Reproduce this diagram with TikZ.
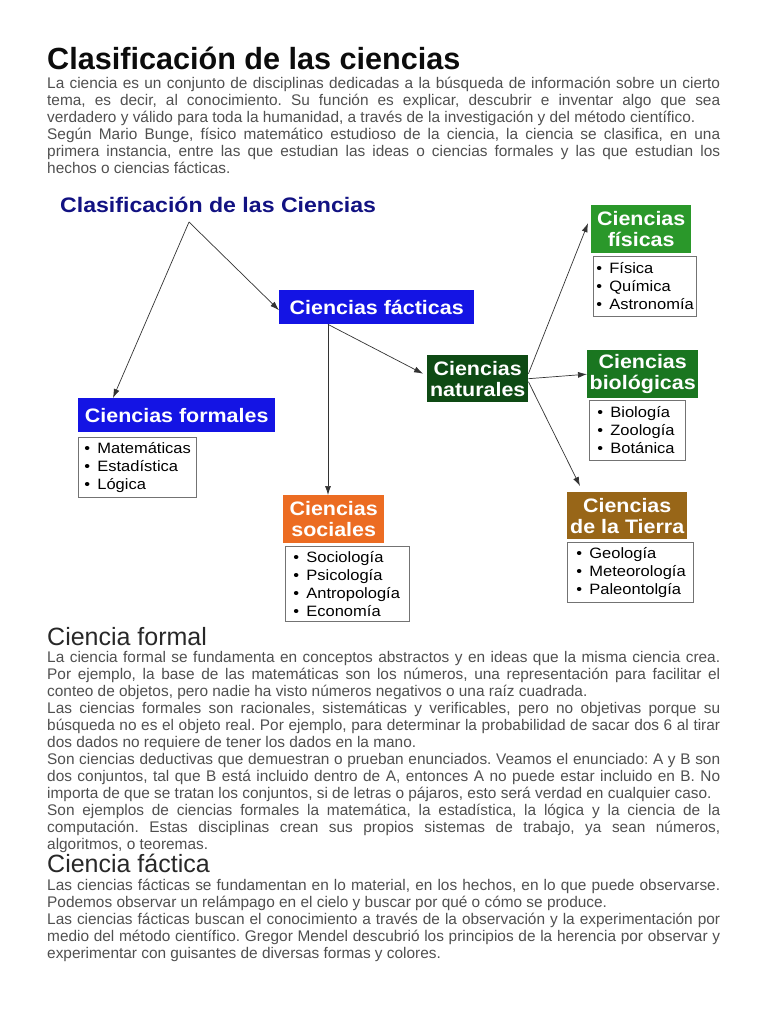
\documentclass[tikz,border=0pt]{standalone}
\usepackage{fontspec}
\setmainfont{Liberation Sans}
\newfontfamily\dfont[FakeStretch=1.1]{Liberation Sans}
\usetikzlibrary{arrows.meta}
\definecolor{bodygray}{RGB}{80,80,80}
\definecolor{headgray}{RGB}{40,40,40}
\definecolor{titleblack}{RGB}{12,12,12}
\definecolor{navy}{RGB}{18,18,130}
\definecolor{cblue}{RGB}{20,20,228}
\definecolor{cdkgreen}{RGB}{14,74,20}
\definecolor{cgreen}{RGB}{42,152,42}
\definecolor{cmgreen}{RGB}{26,118,32}
\definecolor{corange}{RGB}{236,108,34}
\definecolor{cbrown}{RGB}{152,102,24}
\newcommand{\natsp}{\spaceskip=0pt\xspaceskip=0pt\frenchspacing}
\newcommand{\jl}[1]{\makebox[673pt][s]{\natsp #1}}
\newcommand{\bitem}[1]{\mbox{\makebox[13pt][l]{\textbullet}#1}}
\begin{document}
\begin{tikzpicture}[x=1pt,y=-1pt,
  para/.style={anchor=north west, inner sep=0pt, text width=673pt, align=left,
    text=bodygray, font=\fontsize{15.4}{17}\selectfont},
  head/.style={anchor=base west, inner sep=0pt, text=headgray, font=\fontsize{25}{28}\selectfont},
  cbox/.style={anchor=north west, inner sep=0pt, text=white, align=center,
    font=\dfont\bfseries\fontsize{19.5}{21}\selectfont},
  lst/.style={anchor=north west, draw=black!55, fill=white, line width=0.8pt,
    inner ysep=0pt, align=left, text=black, font=\dfont\fontsize{15}{18}\selectfont},
  arr/.style={draw=black!80, line width=0.7pt, -{Latex[length=9pt,width=6pt]}}]
\fill[white] (0,0) rectangle (768,1024);
\useasboundingbox (0,0) rectangle (768,1024);

% ---------- header text ----------
\node[anchor=base west, inner sep=0pt, text=titleblack,
  font=\fontsize{30.6}{33}\selectfont\bfseries] (title) at (47,70) {Clasificación de las ciencias};

\node[para] (p1) at (47,76.1) {\natsp\strut\jl{La ciencia es un conjunto de disciplinas dedicadas a la búsqueda de información sobre un cierto}\\
\jl{tema, es decir, al conocimiento. Su función es explicar, descubrir e inventar algo que sea}\\
verdadero y válido para toda la humanidad, a través de la investigación y del método científico.\\
\jl{Según Mario Bunge, físico matemático estudioso de la ciencia, la ciencia se clasifica, en una}\\
\jl{primera instancia, entre las que estudian las ideas o ciencias formales y las que estudian los}\\
hechos o ciencias fácticas.};

% ---------- diagram ----------
\node[anchor=base west, inner sep=0pt, text=navy,
  font=\dfont\bfseries\fontsize{21}{24}\selectfont] (dtitle) at (60,213) {Clasificación de las Ciencias};

\node[cbox, fill=cblue, minimum width=195pt, minimum height=34pt] (facticas) at (279,290) {Ciencias fácticas};
\node[cbox, fill=cblue, minimum width=197pt, minimum height=34pt] (formales) at (78,398) {Ciencias formales};
\node[cbox, fill=cdkgreen, minimum width=101pt, minimum height=47pt] (naturales) at (427,355) {Ciencias\\naturales};
\node[cbox, fill=cgreen, minimum width=100pt, minimum height=48pt] (fisicas) at (591,205) {Ciencias\\físicas};
\node[cbox, fill=cmgreen, minimum width=111pt, minimum height=48pt] (biologicas) at (587,350) {Ciencias\\biológicas};
\node[cbox, fill=corange, minimum width=101pt, minimum height=48pt] (sociales) at (283,495) {Ciencias\\sociales};
\node[cbox, fill=cbrown, minimum width=120pt, minimum height=47pt] (tierra) at (567,492) {Ciencias\\de la Tierra};

\node[lst, inner xsep=6pt, text width=106pt, minimum height=60pt] (lformales) at (78,437)
  {\bitem{Matemáticas}\\\bitem{Estadística}\\\bitem{Lógica}};
\node[lst, inner xsep=3pt, text width=97pt, minimum height=60pt] (lfisicas) at (593,256)
  {\bitem{Física}\\\bitem{Química}\\\bitem{Astronomía}};
\node[lst, inner xsep=8pt, text width=80pt, minimum height=60pt] (lbiologicas) at (589,400)
  {\bitem{Biología}\\\bitem{Zoología}\\\bitem{Botánica}};
\node[lst, inner xsep=8pt, text width=108pt, minimum height=75pt] (lsociales) at (285,546)
  {\bitem{Sociología}\\\bitem{Psicología}\\\bitem{Antropología}\\\bitem{Economía}};
\node[lst, inner xsep=9pt, text width=108pt, minimum height=60pt] (ltierra) at (567,542)
  {\bitem{Geología}\\\bitem{Meteorología}\\\bitem{Paleontolgía}};

\coordinate (o) at (189,222);
\draw[arr] (o) -- ([xshift=35pt]formales.north west);
\draw[arr] (o) -- ([yshift=-3pt]facticas.west);
\coordinate (fs) at ([xshift=49pt]facticas.south west);
\draw[arr] (fs) -- (fs |- sociales.north);
\draw[arr] (fs) -- ([xshift=-4pt,yshift=5pt]naturales.west);
\draw[arr] ([yshift=5pt]naturales.east) -- ([xshift=-3pt,yshift=6pt]fisicas.west);
\draw[arr] (naturales.east) -- (biologicas.west);
\draw[arr] ([yshift=-3pt]naturales.east) -- ([xshift=13pt,yshift=6pt]tierra.north west);

% ---------- Ciencia formal ----------
\node[head] (hformal) at (47,645) {Ciencia formal};
\node[para] (p2) at (47,650.1) {\natsp\strut\jl{La ciencia formal se fundamenta en conceptos abstractos y en ideas que la misma ciencia crea.}\\
\jl{Por ejemplo, la base de las matemáticas son los números, una representación para facilitar el}\\
conteo de objetos, pero nadie ha visto números negativos o una raíz cuadrada.\\
\jl{Las ciencias formales son racionales, sistemáticas y verificables, pero no objetivas porque su}\\
\jl{búsqueda no es el objeto real. Por ejemplo, para determinar la probabilidad de sacar dos 6 al tirar}\\
dos dados no requiere de tener los dados en la mano.\\
\jl{Son ciencias deductivas que demuestran o prueban enunciados. Veamos el enunciado: A y B son}\\
\jl{dos conjuntos, tal que B está incluido dentro de A, entonces A no puede estar incluido en B. No}\\
importa de que se tratan los conjuntos, si de letras o pájaros, esto será verdad en cualquier caso.\\
\jl{Son ejemplos de ciencias formales la matemática, la estadística, la lógica y la ciencia de la}\\
\jl{computación. Estas disciplinas crean sus propios sistemas de trabajo, ya sean números,}\\
algoritmos, o teoremas.};

% ---------- Ciencia fáctica ----------
\node[head] (hfactica) at (47,872) {Ciencia fáctica};
\node[para] (p3) at (47,878.1) {\natsp\strut\jl{Las ciencias fácticas se fundamentan en lo material, en los hechos, en lo que puede observarse.}\\
Podemos observar un relámpago en el cielo y buscar por qué o cómo se produce.\\
\jl{Las ciencias fácticas buscan el conocimiento a través de la observación y la experimentación por}\\
\jl{medio del método científico. Gregor Mendel descubrió los principios de la herencia por observar y}\\
experimentar con guisantes de diversas formas y colores.};
\end{tikzpicture}
\end{document}
